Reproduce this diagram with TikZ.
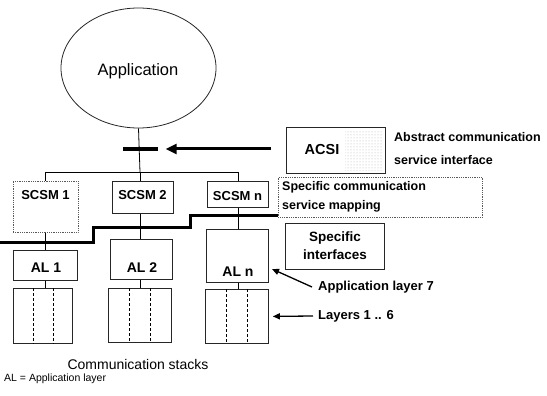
\documentclass[tikz,border=0pt]{standalone}
\usepackage{fontspec}
\setmainfont{Liberation Sans}
\usetikzlibrary{shapes.geometric,arrows.meta,calc,patterns}
\begin{document}
\begin{tikzpicture}[x=1pt,y=-1pt,
  box/.style={draw=black!85, line width=0.8pt, fill=white, inner sep=0pt},
  dotbox/.style={draw=black!65, densely dotted, line width=0.8pt, inner sep=0pt},
  bl/.style={inner sep=0pt, font=\fontsize{13}{15}\selectfont\bfseries},
  rl/.style={inner sep=0pt, font=\fontsize{12.5}{14}\selectfont},
  conn/.style={line width=0.8pt},
  thickline/.style={line width=3pt},
  divider/.style={line width=0.7pt, densely dashed},
  bigarrow/.style={line width=3pt, -{Triangle[length=11pt,width=10pt]}},
  smallarrow/.style={line width=1.3pt, -{Triangle[length=7pt,width=6pt]}}]
\useasboundingbox (0,0) rectangle (547,396);

% Application ellipse
\node[ellipse, draw=black!85, line width=0.8pt, minimum width=155pt, minimum height=120pt, inner sep=0pt]
  (app) at (138.5,68) {};
\node[inner sep=0pt, font=\fontsize{16.5}{18}\selectfont] (apptext) at (138,71) {Application};

% ACSI bar and arrow
\node[fill=black, minimum width=35pt, minimum height=4pt, inner sep=0pt] (bar) at (140,149) {};
\coordinate (acsitail) at (271,149);
\node[box, minimum width=99pt, minimum height=46pt] (acsi) at (335.5,150) {};
\fill[pattern=dots, pattern color=black!30] (345,130) rectangle (382,170);
\node[bl, font=\fontsize{14.5}{16}\selectfont\bfseries] (acsitext) at (322,150) {ACSI};
\draw[bigarrow] (acsitail) -- ($(bar.east)+(8,0)$);
\node[bl, anchor=west, font=\fontsize{12.5}{14}\selectfont\bfseries] (abs1) at (394,137) {Abstract communication};
\node[bl, anchor=west, font=\fontsize{12.5}{14}\selectfont\bfseries] (abs2) at (394,160) {service interface};

% Tree
\coordinate (hub) at (140,172);
\coordinate (hl) at (45,172);
\coordinate (hr) at (238,172);
\draw[conn] (app.south) -- (hub);
\draw[conn] (hl) -- (hr);

% SCSM boxes
\node[dotbox, minimum width=65pt, minimum height=51pt, anchor=north] (s1) at (45.5,181) {};
\node[box, minimum width=61pt, minimum height=32pt, anchor=north] (s2) at (142.5,181) {};
\node[box, minimum width=61pt, minimum height=26pt, anchor=north] (sn) at (237.5,181) {};
\node[bl] (s1t) at (45.5,195) {SCSM 1};
\node[bl] (s2t) at (142.5,195) {SCSM 2};
\node[bl] (snt) at (237.5,196) {SCSM n};
\draw[conn] (hl) -- (hl |- s1.north);
\draw[conn] (hub) -- (hub |- s2.north);
\draw[conn] (hr) -- (hr |- sn.north);

% Specific communication service mapping
\node[dotbox, minimum width=204pt, minimum height=40pt, anchor=north west] (scm) at (278,177) {};
\node[rl, anchor=west, font=\fontsize{12.5}{14}\selectfont\bfseries] (scm1) at (282,187) {Specific communication};
\node[rl, anchor=west, font=\fontsize{12.5}{14}\selectfont\bfseries] (scm2) at (282,206) {service mapping};

% Thick stepped line
\coordinate (st0) at (0,242);
\coordinate (st1) at (278,215.5);
\draw[thickline] (st0) -- (93,242) -- (93,227) -- (190,227) -- (190,215.5) -- (st1);

% AL boxes
\node[box, minimum width=64pt, minimum height=30pt, anchor=north] (a1) at (45,250) {};
\node[box, minimum width=62pt, minimum height=40pt, anchor=north] (a2) at (141,239) {};
\node[box, minimum width=62pt, minimum height=53pt, anchor=north] (an) at (237,229) {};
\node[bl, font=\fontsize{14}{16}\selectfont\bfseries] (a1t) at (46,268) {AL 1};
\node[bl, font=\fontsize{14}{16}\selectfont\bfseries] (a2t) at (142,268) {AL 2};
\node[bl, font=\fontsize{14}{16}\selectfont\bfseries] (ant) at (238,272) {AL n};
\draw[conn] (s1.south -| hl) -- (a1.north -| hl);
\draw[conn] (s2.south -| hub) -- (a2.north -| hub);
\draw[conn] (sn.south -| hr) -- (an.north -| hr);

% Specific interfaces
\node[box, minimum width=99pt, minimum height=46pt, anchor=north west] (si) at (285,223) {};
\node[bl, align=center, font=\fontsize{13.5}{18}\selectfont\bfseries] (sit) at (335,246) {Specific\\interfaces};

% Stacks
\node[box, minimum width=59pt, minimum height=55pt, anchor=north west] (k1) at (13,288) {};
\node[box, minimum width=63pt, minimum height=54pt, anchor=north west] (k2) at (108,288) {};
\node[box, minimum width=63pt, minimum height=54pt, anchor=north west] (k3) at (205,289) {};
\foreach \k in {k1,k2,k3}{
  \draw[divider] ($(\k.north west)!1/3!(\k.north east)$) -- ($(\k.south west)!1/3!(\k.south east)$);
  \draw[divider] ($(\k.north west)!2/3!(\k.north east)$) -- ($(\k.south west)!2/3!(\k.south east)$);
}
\draw[conn] (a1.south -| hl) -- (k1.north -| hl);
\draw[conn] (a2.south -| hub) -- (k2.north -| hub);
\draw[conn] (an.south -| hr) -- (k3.north -| hr);

% Layer labels with arrows
\node[bl, anchor=west] (al7) at (318,287) {Application layer 7};
\node[bl, anchor=west] (l16) at (318,316) {Layers 1 .. 6};
\coordinate (al7tip) at (272,269);
\draw[smallarrow] ($(al7.west)+(-6,0)$) -- (al7tip);
\draw[smallarrow] ($(l16.west)+(-5,0)$) -- ($(k3.east)+(4,0)$);

% Captions
\node[inner sep=0pt, font=\fontsize{14}{16}\selectfont] (cs) at (138,364) {Communication stacks};
\node[inner sep=0pt, anchor=west, font=\fontsize{10.5}{12}\selectfont] (leg) at (4,379) {AL = Application layer};
\end{tikzpicture}
\end{document}
